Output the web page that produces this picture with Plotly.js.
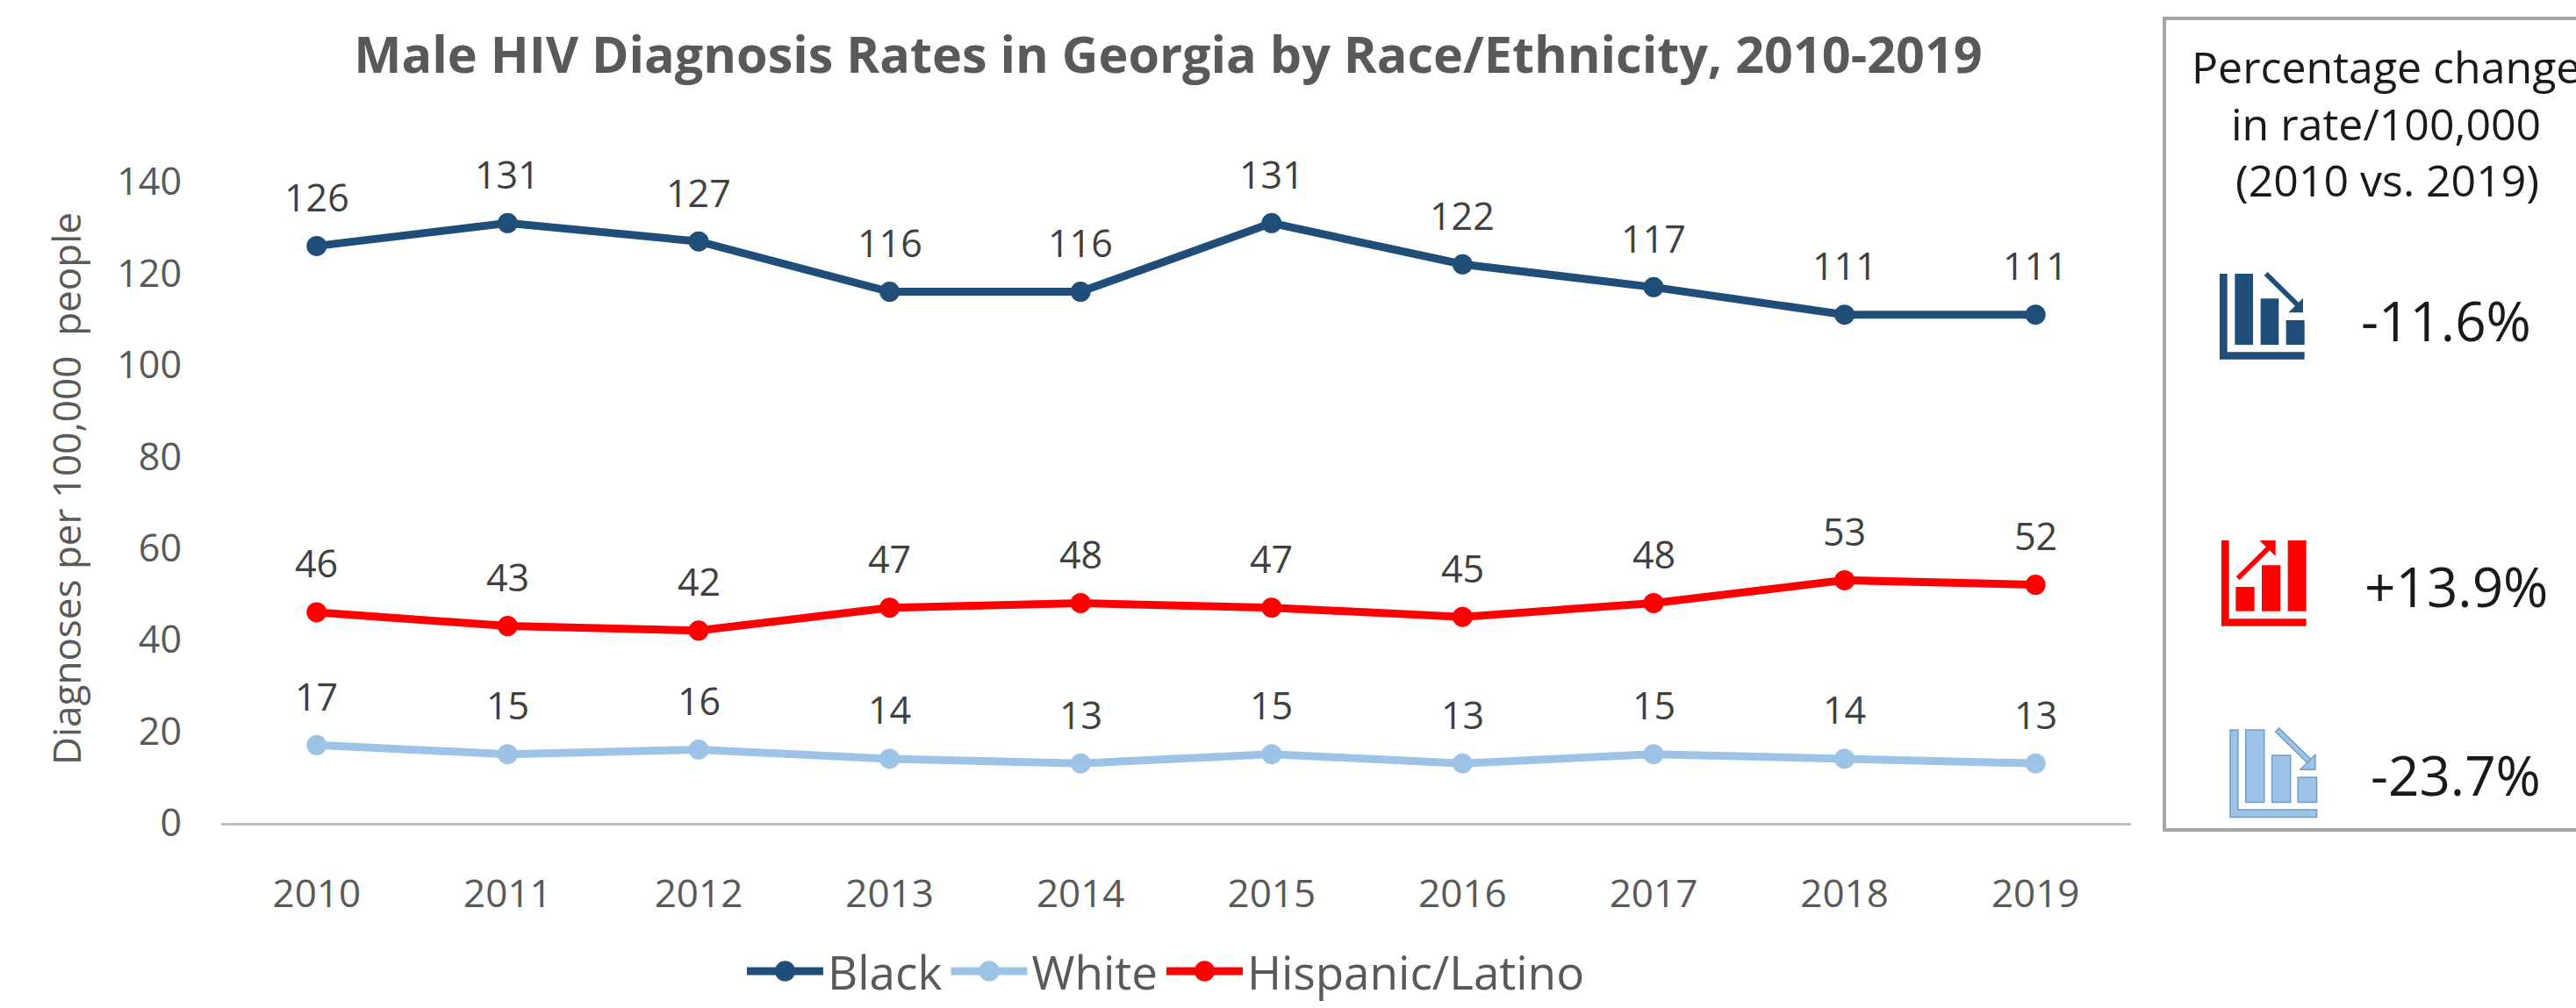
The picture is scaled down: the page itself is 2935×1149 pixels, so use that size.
<!DOCTYPE html>
<html>
<head>
<meta charset="utf-8">
<script src="https://cdn.plot.ly/plotly-3.0.1.min.js"></script>
<style>html,body{margin:0;padding:0;background:#fff;overflow:hidden}#chart{width:2935px;height:1149px}</style>
</head>
<body>
<div id="chart"></div>
<script>
// HIV diagnosis rates among men in Georgia
const years = ['2010','2011','2012','2013','2014','2015','2016','2017','2018','2019'];
const black = [126,131,127,116,116,131,122,117,111,111];
const white = [17,15,16,14,13,15,13,15,14,13];
const hispanic = [46,43,42,47,48,47,45,48,53,52];
const yTicks = [0,20,40,60,80,100,120,140];
const changeHeading = ['Percentage change','in rate/100,000','(2010 vs. 2019)'];
const changeLabels = ['-11.6%','+13.9%','-23.7%'];

const FONT = '"Open Sans", "Noto Sans", sans-serif';
const W = 2935, H = 1149;
const M = {l:252, r:507, t:176, b:211, autoexpand:false};
const NAVY = '#1f4e79', SKY = '#9dc3e6', RED = '#ff0000', GREY = '#595959', LABEL = '#404040';

// Page pixels to paper fractions, for everything that sits outside the axes
const px = x => (x - M.l) / (W - M.l - M.r);
const py = y => 1 - (y - M.t) / (H - M.t - M.b);
const pt = (x, y) => px(x) + ',' + py(y);
const poly = pts => 'M' + pts.map(p => pt(p[0], p[1])).join('L') + 'Z';

const seriesTrace = (name, values, color) => ({
  type: 'scatter', mode: 'lines+markers', name, x: years, y: values,
  line: {color, width: 9}, marker: {color, size: 23}, hoverinfo: 'x+y'
});

// Category axes place annotations by serial number
const valueLabels = values => values.map((v, i) => ({
  x: i, y: v, xref: 'x', yref: 'y', text: String(v), showarrow: false,
  yanchor: 'middle', yshift: 56, font: {family: FONT, size: 43, color: LABEL}
}));

const sideText = (text, x, y, size) => ({
  x: px(x), y: py(y), xref: 'paper', yref: 'paper', text, showarrow: false,
  xanchor: 'center', yanchor: 'middle', font: {family: FONT, size, color: '#1a1a1a'}
});

// Small bar-chart glyph with a trend arrow; units are thirds of a pixel
function icon(x0, y0, k, rising, fill, edge) {
  const u = (a, b) => [x0 + a * k / 3, y0 + b * k / 3];
  const shape = pts => ({
    type: 'path', xref: 'paper', yref: 'paper', path: poly(pts.map(p => u(p[0], p[1]))),
    fillcolor: fill, line: {color: edge, width: edge === fill ? 0 : 1.5}
  });
  const box = (a, b, c, d) => shape([[a,b],[c,b],[c,d],[a,d]]);
  const frame = shape([[0,0],[26,0],[26,268],[290,268],[290,293],[0,293]]);
  const bars = rising
    ? [box(49,159,113,242), box(138,85,202,242), box(227,0,290,242)]
    : [box(52,0,114,243), box(140,85,202,243), box(227,159,290,243)];
  const arrow = rising
    ? [shape([[50,124],[62,136],[172,27],[160,15]]), shape([[130,0],[185,0],[185,54]])]
    : [shape([[152,6],[164,-6],[276,104],[264,116]]), shape([[285,83],[285,133],[235,133]])];
  return [frame, ...bars, ...arrow];
}

const layout = {
  width: W, height: H, margin: M, paper_bgcolor: '#fff', plot_bgcolor: '#fff',
  font: {family: FONT, color: GREY},
  title: {
    text: '<b>Male HIV Diagnosis Rates in Georgia by Race/Ethnicity, 2010-2019</b>',
    x: 1331 / W, xanchor: 'center', y: 1 - 63 / H, yanchor: 'middle',
    font: {family: FONT, size: 57.5, color: GREY}
  },
  xaxis: {
    type: 'category', range: [-0.5, 9.5], showgrid: false, zeroline: false,
    showline: true, linecolor: '#bfbfbf', linewidth: 3, ticks: '',
    ticklabelstandoff: 40, tickfont: {family: FONT, size: 44, color: GREY}
  },
  yaxis: {
    range: [0, 146], tickvals: yTicks, showgrid: false, zeroline: false, showline: false, ticks: '',
    ticklabelstandoff: 44, tickfont: {family: FONT, size: 43, color: GREY},
    title: {text: 'Diagnoses per 100,000\u00a0 people', standoff: 26, font: {family: FONT, size: 44, color: GREY}}
  },
  legend: {
    orientation: 'h', x: px(846), xanchor: 'left', y: py(1107), yanchor: 'middle',
    itemwidth: 87, font: {family: FONT, size: 53, color: GREY}, bgcolor: 'rgba(0,0,0,0)'
  },
  annotations: [
    ...valueLabels(black), ...valueLabels(white), ...valueLabels(hispanic),
    sideText(changeHeading[0], 2718, 76, 50),
    sideText(changeHeading[1], 2718, 141, 50),
    sideText(changeHeading[2], 2720, 205, 50),
    sideText(changeLabels[0], 2787, 365, 62),
    sideText(changeLabels[1], 2798, 668, 62),
    sideText(changeLabels[2], 2798, 883, 62)
  ],
  shapes: [
    {type: 'path', xref: 'paper', yref: 'paper',
     path: 'M' + pt(2960, 21) + 'L' + pt(2466, 21) + 'L' + pt(2466, 946) + 'L' + pt(2960, 946),
     line: {color: '#a6a6a6', width: 4}},
    ...icon(2529, 312, 1, false, NAVY, NAVY),
    ...icon(2531, 616, 1, true, RED, RED),
    ...icon(2541, 832, 1.02, false, SKY, '#6f9fc8')
  ]
};

Plotly.newPlot('chart', [
  seriesTrace('Black', black, NAVY),
  seriesTrace('White', white, SKY),
  seriesTrace('Hispanic/Latino', hispanic, RED)
], layout, {displayModeBar: false}).then(() => {
  // The legend caps its glyphs, so bring them up to the size of the plotted lines
  document.querySelectorAll('.legend .legendlines path').forEach(p => { p.style.strokeWidth = '9px'; });
  document.querySelectorAll('.legend .legendpoints path').forEach(p => {
    p.setAttribute('transform', (p.getAttribute('transform') || '') + ' scale(1.45)');
  });
});
</script>
</body>
</html>
